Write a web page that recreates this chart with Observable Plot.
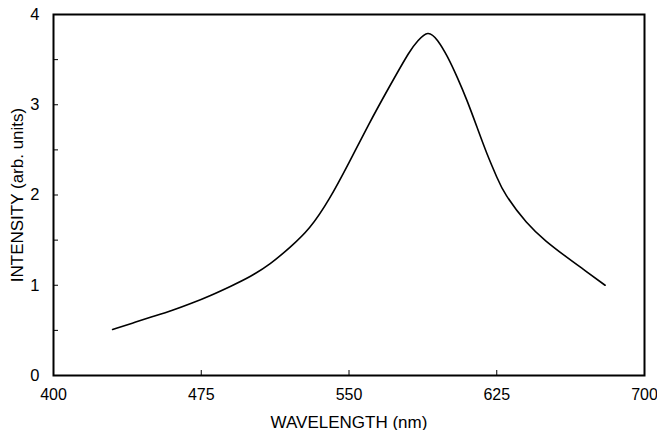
<!DOCTYPE html>
<html>
<head>
<meta charset="utf-8">
<script src="https://cdn.jsdelivr.net/npm/d3@7"></script>
<script src="https://cdn.jsdelivr.net/npm/@observablehq/plot@0.6"></script>
<style>
  html, body { margin: 0; padding: 0; background: #fff; }
  #chart svg { display: block; }
</style>
</head>
<body>
<div id="chart"></div>
<script>
// Emission spectrum
const wavelength = [430, 440, 450, 460, 470, 480, 490, 500, 510, 520, 530, 540, 550, 560, 570, 580, 585, 590, 595, 600, 605, 610, 615, 620, 625, 630, 640, 650, 660, 670, 680];
const intensity  = [0.51, 0.58, 0.65, 0.72, 0.80, 0.89, 0.99, 1.10, 1.24, 1.42, 1.64, 1.96, 2.36, 2.78, 3.18, 3.56, 3.71, 3.79, 3.71, 3.53, 3.30, 3.04, 2.75, 2.46, 2.20, 1.99, 1.70, 1.49, 1.32, 1.16, 1.00];

const xTickLabels = [400, 475, 550, 625, 700];
const xTickMarks = [475, 550, 625];
const yTickLabels = [0, 1, 2, 3, 4];
const yTickMarks = [0.5, 1, 1.5, 2, 2.5, 3, 3.5];

const xTitle = "WAVELENGTH (nm)";
const yTitle = "INTENSITY (arb. units)";

const data = wavelength.map((w, i) => ({w, v: intensity[i]}));

const chart = Plot.plot({
  width: 657,
  height: 430,
  marginLeft: 53,
  marginRight: 13,
  marginTop: 14,
  marginBottom: 55,
  style: {fontFamily: "'Liberation Sans', Arial, Helvetica, sans-serif", fontSize: "17px", color: "#000", background: "#fff"},
  x: {domain: [400, 700]},
  y: {domain: [0, 4]},
  marks: [
    // inward tick marks
    Plot.axisY({ticks: yTickMarks, tickSize: 5, dx: 5, text: null, label: null, stroke: "#000", strokeWidth: 1}),
    Plot.axisX({ticks: xTickMarks, tickSize: 5, dy: -5, text: null, label: null, stroke: "#000", strokeWidth: 1}),
    // tick labels
    Plot.axisY({ticks: yTickLabels, tickFormat: "d", tickSize: 0, tickPadding: 14, label: null, fill: "#000", fontSize: 16.5}),
    Plot.axisX({ticks: xTickLabels, tickFormat: "d", tickSize: 0, tickPadding: 13, label: null, fill: "#000", fontSize: 16}),
    // titles
    Plot.axisY({ticks: [], tickSize: 0, label: yTitle, labelAnchor: "center", labelOffset: 43, labelArrow: "none", dy: -9, fill: "#000"}),
    Plot.axisX({ticks: [], tickSize: 0, label: xTitle, labelAnchor: "center", labelOffset: 52, labelArrow: "none", dx: 2, fill: "#000"}),
    Plot.frame({stroke: "#000", strokeWidth: 2}),
    Plot.line(data, {x: "w", y: "v", curve: "natural", stroke: "#000", strokeWidth: 1.6})
  ]
});
document.getElementById("chart").append(chart);
</script>
</body>
</html>
